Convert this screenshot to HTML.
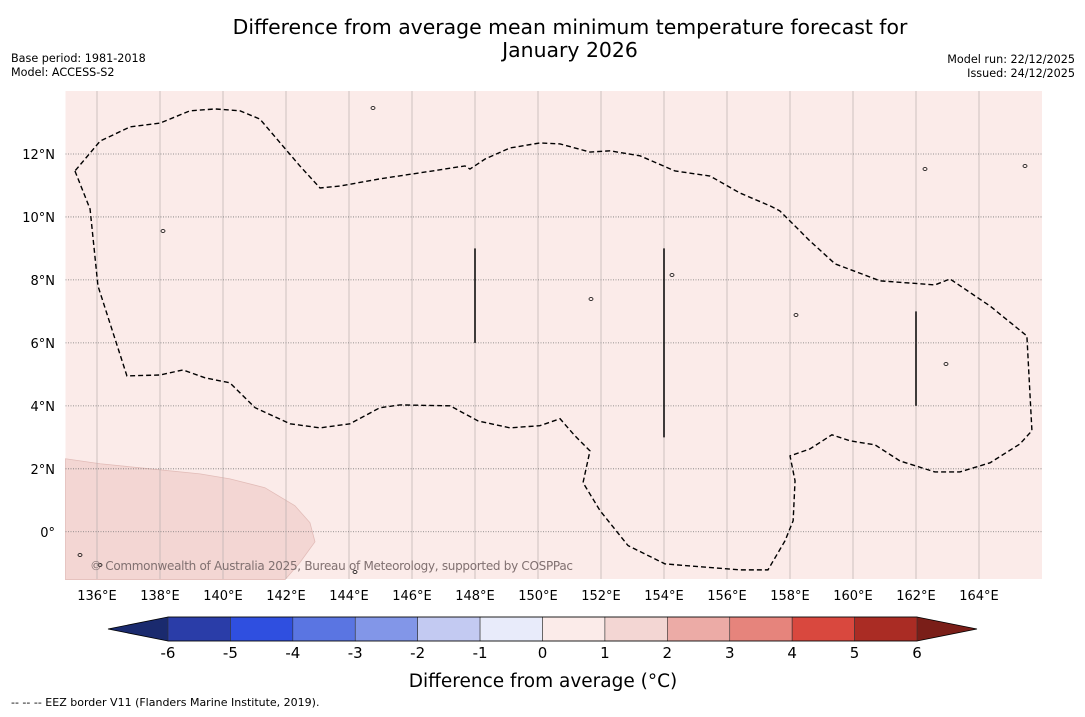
<!DOCTYPE html>
<html><head><meta charset="utf-8"><style>
body{margin:0;background:#fff;font-family:"DejaVu Sans","Liberation Sans",sans-serif;}
svg text{font-family:"DejaVu Sans","Liberation Sans",sans-serif;}
</style></head><body>
<svg id="c" width="1085" height="713" xmlns="http://www.w3.org/2000/svg">
<text x="570" y="34" font-size="20.4" text-anchor="middle">Difference from average mean minimum temperature forecast for</text>
<text x="570" y="57" font-size="20.4" text-anchor="middle">January 2026</text>
<text x="11" y="62" font-size="11.2">Base period: 1981-2018</text>
<text x="11" y="76" font-size="11.2">Model: ACCESS-S2</text>
<text x="1075" y="63" font-size="11.2" text-anchor="end">Model run: 22/12/2025</text>
<text x="1075" y="77" font-size="11.2" text-anchor="end">Issued: 24/12/2025</text>
<g id="map"></g>
<g id="cbar"></g>
<text x="543" y="687" font-size="18.5" text-anchor="middle">Difference from average (°C)</text>
<text x="11" y="706" font-size="11">--  --  -- EEZ border V11 (Flanders Marine Institute, 2019).</text>
</svg>
<script>
const lonTicks=[136,138,140,142,144,146,148,150,152,154,156,158,160,162,164];
const latTicks=[0,2,4,6,8,10,12];
const latLabels=["0°","2°N","4°N","6°N","8°N","10°N","12°N"];
const eezLon=[135.3,135.78,136.03,136.95,138.0,138.73,139.43,140.22,141.02,142.13,143.08,144.03,144.98,145.62,147.21,148.1,149.11,150.06,150.7,151.17,151.65,151.43,151.97,152.86,154.03,155.14,156.41,157.3,157.84,158.1,158.16,158.0,158.63,159.33,159.9,160.7,161.49,162.6,163.39,164.35,165.3,165.68,165.52,164.35,163.08,162.6,161.81,160.86,159.43,158.63,157.68,157.37,156.41,155.46,154.35,153.24,152.29,151.65,150.7,150.06,149.11,148.32,147.84,147.68,146.25,144.98,143.71,143.08,142.44,141.17,140.54,139.75,138.95,138.0,137.05,136.1,135.3];
const eezLat=[11.46,10.25,7.81,4.95,4.98,5.14,4.89,4.73,3.94,3.43,3.3,3.43,3.94,4.03,4.0,3.52,3.3,3.37,3.59,3.05,2.57,1.56,0.67,-0.44,-1.02,-1.11,-1.21,-1.21,-0.29,0.35,1.62,2.41,2.63,3.08,2.89,2.76,2.25,1.9,1.9,2.19,2.79,3.21,6.22,7.17,8.03,7.84,7.9,7.97,8.51,9.24,10.19,10.35,10.76,11.3,11.46,11.94,12.1,12.06,12.32,12.35,12.19,11.84,11.52,11.62,11.4,11.21,10.98,10.92,11.62,13.11,13.37,13.43,13.37,12.98,12.86,12.41,11.46];
const segLon=[148,154,162];
const segLat0=[6,3,4];
const segLat1=[9,9,7];
const warmLon=[135,136.1,137.68,139.27,140.22,141.33,142.28,142.76,142.92,142.44,141.97,135];
const warmLat=[2.32,2.16,2.0,1.84,1.68,1.4,0.83,0.29,-0.32,-0.98,-1.52,-1.52];
const cbLevels=[-6,-5,-4,-3,-2,-1,0,1,2,3,4,5,6];
const cbColors=["#2a3da8","#2f4fe0","#5a75e2","#8296e8","#c3caf2","#e8ebfa","#fbebe9","#f3d6d3","#ecaba6","#e6847c","#d9483e","#aa2c24"];
const NS="http://www.w3.org/2000/svg";
const X0=65.5,Y0=91,W=976.5,H=488,LON0=135,LON1=166,LAT0=-1.5,LAT1=14;
const xs=lon=>X0+(lon-LON0)/(LON1-LON0)*W;
const ys=lat=>Y0+(LAT1-lat)/(LAT1-LAT0)*H;
function mk(t,a,p){const e=document.createElementNS(NS,t);for(const k in a)e.setAttribute(k,a[k]);p.appendChild(e);return e;}
const map=document.getElementById('map');
const bg=mk('rect',{x:X0,y:Y0,width:W,height:H,fill:'#fbebe9'},map);


const wp=mk('polygon',{points:warmLon.map((l,i)=>xs(l)+','+ys(warmLat[i])).join(' '),fill:'#f3d6d3',stroke:'#e2bcb8','stroke-width':0.8},map);


lonTicks.forEach(l=>{
 const g=mk('line',{x1:xs(l),x2:xs(l),y1:Y0,y2:Y0+H,stroke:'#b8aeae','stroke-width':0.7},map);
 
 
 const t=mk('text',{x:xs(l),y:600,'font-size':13,'text-anchor':'middle'},map);t.textContent=l+'°E';
 
 
});
latTicks.forEach((l,i)=>{
 const g=mk('line',{x1:X0,x2:X0+W,y1:ys(l),y2:ys(l),stroke:'#777','stroke-width':0.8,'stroke-dasharray':'1,1.5'},map);
 
 
 const t=mk('text',{x:55,y:ys(l)+5,'font-size':13,'text-anchor':'end'},map);t.textContent=latLabels[i];
 
 
});
const eez=mk('polyline',{points:eezLon.map((l,i)=>xs(l)+','+ys(eezLat[i])).join(' '),fill:'none',stroke:'#000','stroke-width':1.4,'stroke-dasharray':'5,3'},map);


segLon.forEach((l,i)=>{
 const s=mk('line',{x1:xs(l),x2:xs(l),y1:ys(segLat0[i]),y2:ys(segLat1[i]),stroke:'#000','stroke-width':1.5},map);
 
 
});
const isl=[[373,108],[163,231],[591,299],[796,315],[946,364],[672,275],[1025,166],[925,169],[80,555],[100,565],[355,572]];
isl.forEach(p=>{const e=mk('ellipse',{cx:p[0],cy:p[1],rx:2,ry:1.5,fill:'none',stroke:'#000','stroke-width':0.8},map);
 
 });
const cp=mk('text',{x:90,y:570,'font-size':12,fill:'#807070',textLength:483},map);cp.textContent='© Commonwealth of Australia 2025, Bureau of Meteorology, supported by COSPPac';


const cb=document.getElementById('cbar');
const CX0=168,CX1=917,CY=617,CH=24;
const cx=v=>CX0+(v-cbLevels[0])/(cbLevels[cbLevels.length-1]-cbLevels[0])*(CX1-CX0);
const lt=mk('polygon',{points:`${CX0},${CY} ${CX0},${CY+CH} 108,${CY+CH/2}`,fill:'#1a2a6e'},cb);


const rt=mk('polygon',{points:`${CX1},${CY} ${CX1},${CY+CH} 977,${CY+CH/2}`,fill:'#7a1e18'},cb);


cbColors.forEach((c,i)=>{
 const r=mk('rect',{x:cx(cbLevels[i]),y:CY,width:cx(cbLevels[i+1])-cx(cbLevels[i]),height:CH,fill:c,stroke:'#333','stroke-width':0.6},cb);
 
 
});
mk('polygon',{points:`108,${CY+CH/2} ${CX0},${CY} ${CX1},${CY} 977,${CY+CH/2} ${CX1},${CY+CH} ${CX0},${CY+CH}`,fill:'none',stroke:'#000','stroke-width':0.8},cb);
cbLevels.forEach(v=>{
 const t=mk('text',{x:cx(v),y:658,'font-size':15,'text-anchor':'middle'},cb);t.textContent=v;
 
 
});
</script>
</body></html>
